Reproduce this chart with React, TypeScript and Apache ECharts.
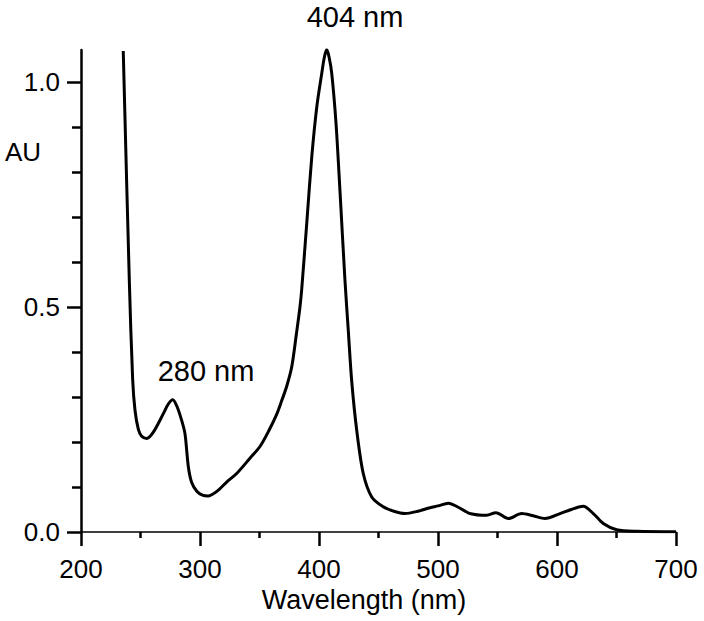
import React, { useEffect, useRef } from "react";
import * as echarts from "echarts";

const wavelengths = [
  235.5, 240.6, 243.4, 245.4, 248.2, 251, 255.2, 260.8, 269.2, 273.5, 277.1, 280.5, 284.6,
  287.4, 290.2, 293, 297.5, 302, 306.7, 314, 322.4, 330.8, 342, 350.4, 358, 364.5, 368.7, 373,
  377.1, 381, 384, 385.5, 389.7, 393.9, 398.1, 402.3, 404.5, 406.5, 408.5, 410.7, 414.3, 417.6,
  421.8, 424.6, 427.5, 431.7, 437.2, 444.3, 454, 463, 472.3, 483, 493.3, 500, 508.7, 517, 526.9,
  540.9, 548.7, 559.1, 570.3, 580, 589.9, 602.5, 612, 622.1, 630.5, 638.9, 650.2, 667, 700,
];
const absorbance = [
  1.069, 0.559, 0.34, 0.27, 0.228, 0.213, 0.208, 0.222, 0.263, 0.285, 0.294, 0.28, 0.248,
  0.218, 0.145, 0.11, 0.09, 0.082, 0.08, 0.09, 0.111, 0.13, 0.164, 0.19, 0.226, 0.262, 0.292,
  0.325, 0.367, 0.44, 0.5, 0.54, 0.686, 0.833, 0.944, 1.019, 1.055, 1.072, 1.055, 1.019, 0.908,
  0.759, 0.56, 0.448, 0.335, 0.226, 0.13, 0.078, 0.056, 0.046, 0.041, 0.046, 0.054, 0.058, 0.064,
  0.055, 0.041, 0.037, 0.043, 0.03, 0.041, 0.036, 0.03, 0.041, 0.05, 0.057, 0.041, 0.019, 0.005,
  0.0015, 0.0005,
];
const yTickValues = [0, 0.5, 1.0];
const xLabel = "Wavelength (nm)";
const yLabel = "AU";
const peakLabels = ["404 nm", "280 nm"];

const FONT = "'Liberation Sans', Arial, Helvetica, sans-serif";

export default function App() {
  const ref = useRef<HTMLDivElement>(null);
  useEffect(() => {
    if (!ref.current) return;
    const chart = echarts.init(ref.current, null, { renderer: "svg" });
    const data = wavelengths.map((w, i) => [w, absorbance[i]]);
    const yMaxTop = 482 / 450;
    chart.setOption({
      animation: false,
      backgroundColor: "#ffffff",
      textStyle: { fontFamily: FONT },
      grid: [
        { left: 81, right: 28, top: 50, bottom: 89 },
        { left: 81, right: 28, top: 82, bottom: 89 },
      ],
      xAxis: [
        {
          type: "value",
          gridIndex: 0,
          min: 200,
          max: 700,
          interval: 100,
          axisLine: { show: true, lineStyle: { color: "#000", width: 1.5 } },
          axisTick: { show: true, inside: false, length: 14, lineStyle: { color: "#000", width: 2.5 } },
          minorTick: { show: true, splitNumber: 2, length: 6, lineStyle: { color: "#000", width: 2.5 } },
          axisLabel: { color: "#000", fontSize: 26, fontFamily: FONT, margin: 24 },
          splitLine: { show: false },
        },
        { type: "value", gridIndex: 1, min: 200, max: 700, show: false },
      ],
      yAxis: [
        {
          type: "value",
          gridIndex: 0,
          min: 0,
          max: yMaxTop,
          axisLine: { show: true, lineStyle: { color: "#000", width: 2.5 } },
          axisTick: { show: false },
          axisLabel: { show: false },
          splitLine: { show: false },
        },
        {
          type: "value",
          gridIndex: 1,
          min: 0,
          max: 1,
          interval: 0.5,
          axisLine: { show: false },
          axisTick: { show: true, inside: false, length: 14, lineStyle: { color: "#000", width: 2.5 } },
          minorTick: { show: true, splitNumber: 5, length: 9, lineStyle: { color: "#000", width: 2.5 } },
          axisLabel: {
            color: "#000",
            fontSize: 26,
            fontFamily: FONT,
            margin: 21,
            customValues: yTickValues,
            formatter: (v: number) => v.toFixed(1),
          },
          splitLine: { show: false },
        },
      ],
      series: [
        {
          type: "line",
          xAxisIndex: 0,
          yAxisIndex: 0,
          data,
          showSymbol: false,
          smooth: 0.3,
          lineStyle: { color: "#000", width: 3 },
          silent: true,
        },
      ],
      graphic: [
        {
          type: "text",
          left: 5,
          top: 139,
          style: { text: yLabel, fontSize: 26, fontFamily: FONT, fill: "#000" },
        },
        {
          type: "text",
          x: 364,
          y: 600,
          style: {
            text: xLabel,
            fontSize: 27,
            fontFamily: FONT,
            fill: "#000",
            align: "center",
            verticalAlign: "middle",
          },
        },
        {
          type: "text",
          x: 355,
          y: 17,
          style: {
            text: peakLabels[0],
            fontSize: 29,
            fontFamily: FONT,
            fill: "#000",
            align: "center",
            verticalAlign: "middle",
          },
        },
        {
          type: "text",
          x: 206,
          y: 371,
          style: {
            text: peakLabels[1],
            fontSize: 29,
            fontFamily: FONT,
            fill: "#000",
            align: "center",
            verticalAlign: "middle",
          },
        },
      ],
    });
    return () => chart.dispose();
  }, []);
  return (
    <div
      ref={ref}
      style={{ position: "absolute", left: 0, top: 0, width: 704, height: 621, background: "#fff" }}
    />
  );
}
